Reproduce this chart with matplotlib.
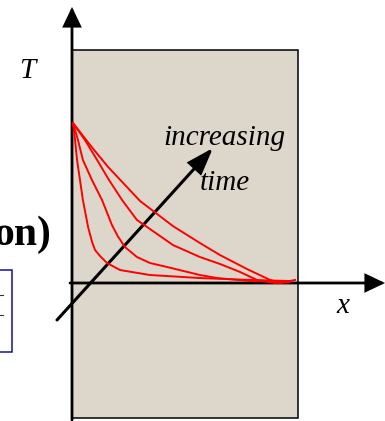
import matplotlib
matplotlib.use("Agg")
import matplotlib.pyplot as plt
from matplotlib.patches import Rectangle, FancyArrowPatch

# ---- data: temperature profiles T(x) at increasing times (normalised) ----
x_a = [0, .009, .018, .031, .044, .067, .084, .098, .12, .151, .209, .342, .564, .787, .964]
T_a = [1, .894, .769, .644, .519, .35, .26, .206, .169, .125, .081, .05, .031, .019, .0125]

x_b = [0, .022, .044, .084, .129, .173, .2, .231, .284, .342, .418, .564, .64, .787, .964]
T_b = [1, .894, .769, .644, .519, .3625, .29, .225, .1625, .125, .1, .05, .031, .0125, .006]

x_c = [0, .053, .107, .16, .218, .284, .342, .444, .564, .653, .742, .818, .898, .964]
T_c = [1, .894, .769, .644, .519, .394, .3375, .2375, .1625, .119, .069, .019, 0, .006]

x_d = [0, .076, .156, .227, .298, .444, .564, .653, .773, .876, .92, .987]
T_d = [1, .8625, .725, .619, .5125, .356, .25, .175, .0875, .019, 0, .019]

curves = [(x_a, T_a), (x_b, T_b), (x_c, T_c), (x_d, T_d)]

label_T = "T"
label_x = "x"
label_arrow = ["increasing", "time"]
label_cut = "on)"

W, H = 385, 421
fig = plt.figure(figsize=(W / 100, H / 100), dpi=100)
ax = fig.add_axes([0, 0, 1, 1])
ax.set_xlim(0, W)
ax.set_ylim(H, 0)
ax.axis("off")

# slab
ax.add_patch(Rectangle((72, 50), 226, 368, facecolor="#DDD7CB",
                       edgecolor="black", lw=1.1, zorder=1))

# blue box at left (cut off)
ax.add_patch(Rectangle((-5, 270), 16.5, 82, facecolor="white",
                       edgecolor="#1010A0", lw=1.1, zorder=1))
ax.plot([0, 3], [295, 295], color="#333333", lw=0.8, zorder=2)
ax.plot([0, 3], [315, 315], color="#333333", lw=0.8, zorder=2)

ax.text(51, 245, label_cut, fontsize=30, fontweight="bold",
        family="Liberation Serif", ha="right", va="baseline", zorder=3)

# axes arrows
def arrow(p0, p1, lw, hl, hw):
    a = FancyArrowPatch(p0, p1, arrowstyle=f"-|>,head_length={hl},head_width={hw}",
                        mutation_scale=10, lw=lw, color="black",
                        shrinkA=0, shrinkB=0, zorder=5, joinstyle="miter")
    ax.add_patch(a)

arrow((72, 420), (72, 7), 2.0, 1.15, 0.55)
arrow((70, 283), (385, 283), 2.0, 1.15, 0.55)

# curves in normalised coordinates
cax = fig.add_axes([73 / W, (H - 283) / H, 225 / W, 160 / H])
cax.set_xlim(0, 1)
cax.set_ylim(0, 1)
cax.axis("off")
cax.patch.set_alpha(0)
for xs, ts in curves:
    cax.plot(xs, ts, color="#FF0000", lw=1.4, clip_on=False,
             solid_joinstyle="round", zorder=4)

# increasing time arrow (on top)
arrow((57, 320), (213, 148), 2.2, 1.6, 0.55)

ax.text(27, 78, label_T, fontsize=21, style="italic",
        family="Liberation Serif", ha="center", va="baseline")
ax.text(343, 313, label_x, fontsize=21, style="italic",
        family="Liberation Serif", ha="center", va="baseline")
ax.text(224, 145, label_arrow[0], fontsize=21, style="italic",
        family="Liberation Serif", ha="center", va="baseline", zorder=6)
ax.text(225, 190, label_arrow[1], fontsize=21, style="italic",
        family="Liberation Serif", ha="center", va="baseline", zorder=6)

fig.savefig("out.png", dpi=100)
